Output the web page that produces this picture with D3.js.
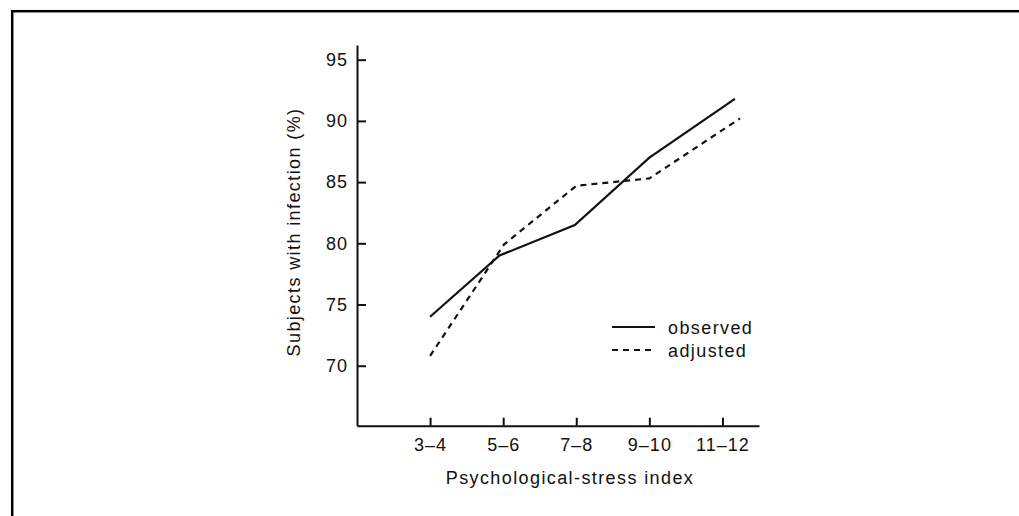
<!DOCTYPE html>
<html lang="en">
<head>
    <meta charset="UTF-8">
    <title>Infection vs psychological stress</title>
    <script src="https://cdn.jsdelivr.net/npm/d3@7/dist/d3.min.js"></script>
    <style>
        body { margin: 0; background: #fff; }
        text {
            font-family: "Liberation Sans", Arial, sans-serif;
            fill: #111;
        }
        .axis path,
        .axis line {
            fill: none;
            stroke: #111;
            stroke-width: 2;
        }
        .axis text {
            font-size: 18px;
            letter-spacing: 1px;
        }
        .title {
            font-size: 18px;
            letter-spacing: 1.4px;
        }
        .line {
            fill: none;
            stroke: #111;
            stroke-width: 2.2;
        }
        .dashed {
            stroke-dasharray: 6 5;
        }
    </style>
</head>
<body>
<svg id="vis" width="1019" height="516"></svg>
<script>
    // stress index groups on the x axis
    let categories = ["3–4", "5–6", "7–8", "9–10", "11–12"];
    // % of subjects with infection
    let observed = [74.0, 79.0, 81.5, 87.0, 91.8];
    let adjusted = [70.8, 79.9, 84.7, 85.3, 90.2];
    // where each point sits along the axis (category index, as drawn)
    let observedPos = [0, 0.95, 1.98, 3, 4.17];
    let adjustedPos = [0, 1.01, 2, 3, 4.24];
    let yTicks = [70, 75, 80, 85, 90, 95];
    let legendLabels = ["observed", "adjusted"];

    let svg = d3.select("#vis");

    // frame round the figure (runs off the right and bottom edges)
    svg.append("rect")
        .attr("x", 12.2)
        .attr("y", 11.2)
        .attr("width", 1100)
        .attr("height", 600)
        .attr("fill", "none")
        .attr("stroke", "#000")
        .attr("stroke-width", 2.5);

    let x = d3.scaleLinear().domain([-1, 4.5]).range([357, 759]);
    let y = d3.scaleLinear().domain([65.1, 96.2]).range([425.7, 45]);

    let xAxis = svg.append("g")
        .attr("class", "axis")
        .attr("transform", "translate(0,425.7)")
        .call(d3.axisBottom(x)
            .tickValues(d3.range(categories.length))
            .tickFormat((i) => categories[i])
            .tickSizeInner(-8)
            .tickSizeOuter(0));
    xAxis.selectAll(".tick text").attr("y", 13);

    let yAxis = svg.append("g")
        .attr("class", "axis")
        .attr("transform", "translate(357,0)")
        .call(d3.axisLeft(y)
            .tickValues(yTicks)
            .tickSizeInner(-9)
            .tickSizeOuter(0));
    yAxis.selectAll(".tick text").attr("x", -9);

    // axis titles
    svg.append("text")
        .attr("class", "title")
        .attr("x", 570)
        .attr("y", 484)
        .attr("text-anchor", "middle")
        .text("Psychological-stress index");

    svg.append("text")
        .attr("class", "title")
        .attr("transform", "translate(300,232) rotate(-90)")
        .attr("text-anchor", "middle")
        .text("Subjects with infection (%)");

    /* lines */
    let line = d3.line()
        .x((d) => x(d[0]))
        .y((d) => y(d[1]));

    svg.append("path")
        .datum(d3.zip(observedPos, observed))
        .attr("class", "line")
        .attr("d", line);

    svg.append("path")
        .datum(d3.zip(adjustedPos, adjusted))
        .attr("class", "line dashed")
        .attr("d", line);

    /* legend */
    let legend = svg.append("g").attr("transform", "translate(612,327)");
    legendLabels.forEach(function(label, i) {
        let row = legend.append("g").attr("transform", "translate(0," + (i * 23) + ")");
        row.append("line")
            .attr("class", i === 0 ? "line" : "line dashed")
            .attr("x1", 0)
            .attr("x2", 43)
            .attr("y1", 0)
            .attr("y2", 0);
        row.append("text")
            .attr("class", "title")
            .attr("x", 56)
            .attr("y", 7)
            .text(label);
    });
</script>
</body>
</html>
